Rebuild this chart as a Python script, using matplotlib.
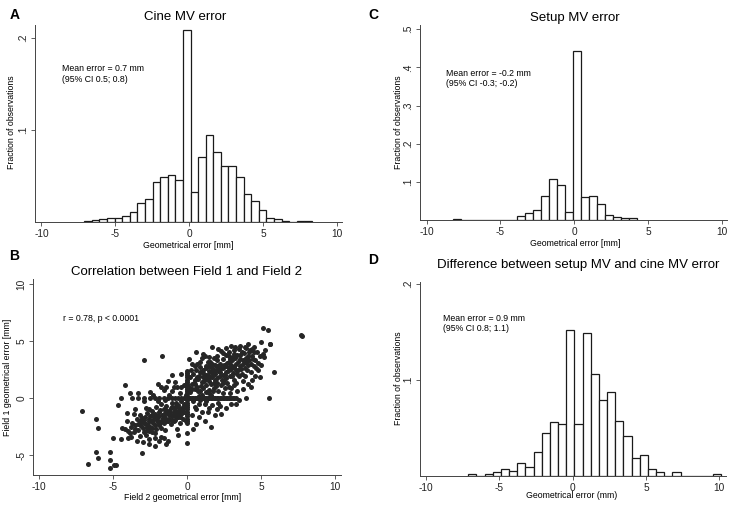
import numpy as np
import matplotlib
matplotlib.use("Agg")
from matplotlib import pyplot as plt

# --- histogram data (fraction of observations per bin) ---
cine_start, cine_width = -7.10, 0.513
cine_frac = [0.0007, 0.0015, 0.003, 0.0037, 0.0037, 0.006, 0.011, 0.020, 0.0245, 0.043,
             0.048, 0.051, 0.045, 0.208, 0.032, 0.0707, 0.0938, 0.0755, 0.061, 0.061,
             0.049, 0.030, 0.023, 0.0125, 0.0037, 0.0026, 0.001, 0.0, 0.0007, 0.0007]

setup_start, setup_width = -8.18, 0.541
setup_frac = [0.002, 0, 0, 0, 0, 0, 0, 0.001, 0.0105, 0.0195, 0.027, 0.062, 0.108, 0.091,
              0.022, 0.444, 0.059, 0.062, 0.041, 0.014, 0.009, 0.005, 0.006]

diff_start, diff_width = -7.12, 0.557
diff_frac = [0.0014, 0, 0.002, 0.004, 0.0066, 0.005, 0.013, 0.0087, 0.025, 0.0446,
             0.056, 0.054, 0.152, 0.054, 0.149, 0.106, 0.079, 0.087, 0.057, 0.042,
             0.019, 0.022, 0.0066, 0.004, 0, 0.0035, 0, 0, 0, 0, 0.002]

# --- scatter data: (field 2 error, field 1 error) in mm ---
outlier_pts = [(-7.11, -1.14), (-6.73, -5.82), (-6.14, -1.81), (-6.0, -2.6), (-6.2, -4.7),
               (-6.05, -5.3), (-5.2, -4.7), (-5.2, -5.44), (-5.2, -6.17), (-4.97, -5.88),
               (-4.8, -5.88), (-5.0, -3.54), (-4.7, -0.61), (-4.18, 1.14), (-4.1, -1.34),
               (-4.1, -2.0), (-3.9, 0.4), (-4.47, -3.6), (-2.93, 3.3), (-3.05, -4.85),
               (-1.7, 3.68), (1.63, -2.5), (5.86, 2.25), (7.68, 5.5), (7.8, 5.4),
               (5.16, 6.14), (5.5, 5.96), (5.63, 4.74), (1.7, 4.5)]

lower_pts = [(-4.4, -2.6), (-4.2, -2.7), (-4.0, -2.9), (-3.9, -3.1), (-3.8, -2.5), (-3.7, -2.2),
             (-3.6, -3.0), (-3.5, -2.4), (-3.4, -3.8), (-3.4, -1.8), (-3.3, -2.8), (-3.2, -3.3),
             (-3.2, -1.5), (-3.1, -2.1), (-3.0, -2.6), (-3.0, -3.9), (-2.9, -1.9), (-2.8, -2.3),
             (-2.8, -3.2), (-2.7, -1.3), (-2.7, -2.8), (-2.6, -2.0), (-2.6, -3.6), (-2.5, -1.6),
             (-2.5, -2.5), (-2.4, -1.1), (-2.4, -3.0), (-2.3, -1.9), (-2.3, -2.2), (-2.2, -4.2),
             (-2.2, -1.4), (-2.1, -2.7), (-2.1, -0.8), (-2.0, -1.7), (-2.0, -2.1), (-1.9, -1.2),
             (-1.9, -2.4), (-1.8, -3.4), (-1.8, -0.5), (-1.7, -1.9), (-1.7, -1.5), (-1.6, -2.2),
             (-1.6, -1.0), (-1.5, -2.8), (-1.5, -1.3), (-1.4, -0.7), (-1.4, -1.8), (-1.3, -2.0),
             (-1.3, -3.8), (-1.2, -1.1), (-1.2, -1.5), (-1.1, -0.9), (-1.1, -2.3), (-1.0, -1.6),
             (-1.0, -0.4), (-0.9, -1.2), (-0.9, -2.0), (-0.8, -0.8), (-0.8, -1.9), (-0.7, -1.4),
             (-0.7, -2.7), (-0.6, -0.6), (-0.6, -1.7), (-0.5, -1.0), (-0.5, -2.2), (-0.4, -0.3),
             (-0.4, -1.4), (-0.3, -0.9), (-0.3, -1.8), (-0.2, -0.5), (-0.2, -1.2), (-0.1, -2.0),
             (-0.1, -0.7), (-3.5, -1.0), (-3.3, 0.4), (-2.9, -0.3), (-2.5, 0.5), (-2.3, 0.3),
             (-2.0, 1.2), (-1.8, 1.0), (-1.6, 0.7), (-1.4, 1.0), (-1.2, 0.3), (-1.0, 0.6),
             (-0.9, 1.0), (-0.7, 1.0), (-0.5, 0.4), (-0.4, 1.0), (-0.2, 1.1), (-0.1, 0.3),
             (-1.0, 2.0), (-0.4, 2.1), (-1.3, 1.5), (-0.8, 1.4), (-2.8, -0.9), (-3.6, -1.4),
             (-3.8, -3.4), (-4.0, -3.5), (-2.2, -3.5), (-1.6, -3.5), (-1.4, -4.0), (-1.9, -3.8),
             (-2.6, -4.0), (-3.2, -2.0), (-2.6, -1.0), (-2.0, -0.3), (-1.5, -0.2), (-0.6, -3.2),
             (-3.35, -2.25), (-3.15, -2.45), (-2.95, -2.15), (-2.85, -1.65), (-2.75, -2.55),
             (-2.65, -2.35), (-2.55, -1.85), (-2.45, -2.05), (-2.35, -2.65), (-2.25, -1.65),
             (-2.15, -2.35), (-2.05, -1.95), (-1.95, -1.55), (-1.85, -2.15), (-1.75, -2.65),
             (-1.65, -1.75), (-1.55, -1.55), (-1.45, -2.05), (-1.35, -1.35), (-1.25, -1.85),
             (-1.15, -1.25), (-1.05, -1.95), (-0.95, -1.45), (-0.85, -1.05), (-0.75, -1.65),
             (-0.65, -1.25), (-0.55, -0.85), (-0.45, -1.65), (-0.35, -1.25), (-0.25, -0.75),
             (-3.05, -1.75), (-2.55, -2.85), (-2.15, -3.05), (-1.85, -1.05), (-1.45, -1.05),
             (-1.05, -0.75), (-0.75, -0.45), (-2.35, -1.45), (-2.95, -2.95), (-3.55, -2.75)]

upper_pts = [(0.3, -1.5), (0.5, -0.8), (0.6, -1.0), (0.8, -0.5), (1.0, -1.2), (1.2, -0.5),
             (1.5, -0.9), (1.7, -0.6), (2.0, -1.0), (2.3, -1.4), (2.1, -0.4), (2.6, -0.9),
             (3.0, -0.5), (3.3, -0.5), (0.4, -0.3), (0.9, -0.2), (1.3, -0.3),
             (0.2, 0.5), (0.3, 1.2), (0.4, 2.1), (0.5, 0.8), (0.5, 1.6), (0.6, 2.5), (0.7, 1.0),
             (0.7, 3.0), (0.8, 1.9), (0.9, 0.6), (0.9, 2.7), (1.0, 1.4), (1.0, 3.5), (1.1, 2.2),
             (1.1, 0.9), (1.2, 1.7), (1.2, 3.7), (1.3, 2.6), (1.3, 1.1), (1.4, 2.0), (1.4, 3.2),
             (1.5, 1.5), (1.5, 0.7), (1.5, 2.8), (1.6, 2.3), (1.6, 1.2), (1.7, 3.0), (1.7, 1.8),
             (1.8, 2.5), (1.8, 0.9), (1.8, 3.5), (1.9, 1.6), (1.9, 2.1), (2.0, 2.8), (2.0, 1.3),
             (2.0, 3.3), (2.1, 2.4), (2.1, 0.6), (2.2, 1.9), (2.2, 3.0), (2.3, 2.6), (2.3, 1.1),
             (2.4, 3.4), (2.4, 2.0), (2.5, 1.6), (2.5, 2.9), (2.6, 2.3), (2.6, 3.8), (2.7, 1.3),
             (2.7, 3.1), (2.8, 2.6), (2.8, 4.0), (2.9, 1.9), (2.9, 3.4), (3.0, 2.9), (3.0, 0.9),
             (3.1, 3.6), (3.1, 2.2), (3.2, 4.2), (3.2, 1.6), (3.3, 3.0), (3.3, 2.5), (3.4, 3.8),
             (3.5, 1.9), (3.5, 4.3), (3.6, 2.8), (3.6, 3.4), (3.7, 2.1), (3.7, 4.0), (3.8, 3.0),
             (3.8, 1.5), (3.9, 4.5), (3.9, 2.6), (4.0, 3.5), (4.0, 4.4), (4.1, 2.9), (4.1, 1.2),
             (4.2, 4.0), (4.2, 3.3), (4.3, 2.3), (4.4, 3.7), (4.4, 4.3), (4.5, 2.8), (4.6, 3.3),
             (4.6, 1.9), (4.7, 4.0), (4.8, 3.1), (4.8, 2.5), (4.9, 3.7), (5.0, 4.9), (5.0, 2.9),
             (5.1, 3.9), (5.2, 3.6), (5.3, 4.2), (0.6, 4.0), (1.1, 3.9), (2.1, 4.3), (2.6, 4.4),
             (3.0, 4.6), (0.1, 3.4), (0.3, 3.0), (1.0, 0.3), (1.6, 0.3), (2.4, 0.4), (2.9, 0.4),
             (3.4, 0.6), (3.8, 0.8), (4.3, 1.0), (0.2, 1.8), (0.1, 1.0), (3.5, -0.2), (1.9, -1.5),
             (1.2, -2.0), (0.8, -1.7), (4.4, 1.6), (4.9, 1.8), (5.6, 4.7), (3.3, 1.3), (2.2, -0.7),
             (1.4, -1.2), (0.6, -2.3), (0.4, -2.7), (3.9, 1.9), (3.2, 3.9), (2.3, 4.1), (1.5, 3.6),
             (0.9, 3.2), (1.9, 2.9), (2.4, 1.3), (2.8, 1.0), (1.3, 0.5), (0.8, 0.2),
             (0.55, 1.25), (0.75, 1.65), (0.95, 1.05), (1.05, 1.85), (1.15, 1.45), (1.25, 2.05),
             (1.35, 1.75), (1.45, 2.35), (1.55, 1.85), (1.65, 2.65), (1.75, 2.15), (1.85, 1.35),
             (1.95, 2.45), (2.05, 1.75), (2.15, 2.75), (2.25, 2.25), (2.35, 1.55), (2.45, 2.65),
             (2.55, 2.05), (2.65, 2.85), (2.75, 2.35), (2.85, 3.15), (2.95, 2.55), (3.05, 3.35),
             (3.15, 2.75), (3.25, 3.55), (3.35, 2.15), (3.45, 3.15), (3.55, 3.75), (3.65, 2.55),
             (3.75, 3.35), (3.85, 3.95), (3.95, 3.15), (4.05, 2.45), (4.15, 3.65), (4.25, 4.25),
             (4.35, 2.95), (4.45, 3.45), (4.55, 4.05), (4.65, 2.65), (1.25, 2.85), (1.05, 2.45),
             (0.85, 2.25), (0.65, 1.85), (0.45, 1.35), (1.55, 3.15), (2.05, 3.65), (2.45, 3.95),
             (2.85, 3.65), (3.25, 4.45), (3.6, 4.6), (4.1, 4.7), (4.5, 4.5), (1.95, 1.05),
             (2.65, 1.75), (3.05, 1.95), (3.45, 2.45), (3.15, 1.15), (2.55, 0.85), (1.45, 0.45),
             (0.75, 0.65), (1.75, 0.65), (0.35, 0.75), (0.25, 2.45), (0.55, 2.85)]

# points with field 1 error == 0 (the horizontal row)
zero_row_x = [-4.5, -3.7, -3.3, -2.9, -2.5, -2.2, -1.9, -1.6, -1.3, -1.0, -0.8, -0.6, -0.4, -0.2,
              0.1, 0.2, 0.3, 0.4, 0.5, 0.6, 0.7, 0.8, 0.9, 1.0, 1.1, 1.2, 1.3, 1.4, 1.5, 1.6,
              1.7, 1.8, 1.9, 2.0, 2.1, 2.2, 2.3, 2.4, 2.5, 2.6, 2.7, 2.8, 2.9, 3.0, 3.1, 3.2,
              3.3, 4.0, 5.56]
# points with field 2 error == 0 (the vertical column)
zero_col_y = [-3.98, -3.1, -2.2, -2.0, -1.8, -1.6, -1.4, -1.2, -1.0, -0.8, -0.6, -0.4, -0.2,
              0.0, 0.2, 0.4, 0.6, 0.8, 1.0, 1.2, 1.4, 1.6, 1.8, 2.0, 2.2, 2.4]

plt.rcParams['font.family'] = ['Liberation Sans', 'DejaVu Sans']

W, H = 738, 511
fig = plt.figure(figsize=(W / 100, H / 100), dpi=100)
AX_COL = '#444444'


def rect(l, t, r, b):
    # pixel box -> figure fraction
    return [l / W, 1 - b / H, (r - l) / W, (b - t) / H]


def ftext(x, y, s, **kw):
    fig.text(x / W, 1 - y / H, s, **kw)


def style_axes(ax, xlim, ylim, yticks, ylabels):
    for side in ['top', 'right']:
        ax.spines[side].set_visible(False)
    for side in ['left', 'bottom']:
        ax.spines[side].set_color(AX_COL)
        ax.spines[side].set_linewidth(0.7)
    ax.set_xlim(*xlim)
    ax.set_ylim(*ylim)
    ax.set_xticks([-10, -5, 0, 5, 10])
    ax.set_xticklabels(['-10', '-5', '0', '5', '10'])
    ax.set_yticks(yticks)
    ax.set_yticklabels(ylabels, rotation=90, va='center')
    ax.tick_params(direction='out', length=3, width=0.6, color=AX_COL,
                   labelsize=7.3, pad=2, labelcolor='#222222')


def hist_panel(box, start, width, frac, xlim, ylim, yticks, ylabels):
    ax = fig.add_axes(rect(*box))
    edges = start + width * np.arange(len(frac))
    ax.bar(edges, frac, width=width, align='edge', color='white',
           edgecolor='#1a1a1a', linewidth=0.9)
    style_axes(ax, xlim, ylim, yticks, ylabels)
    return ax


# A: cine MV error
axA = hist_panel((35, 25, 341.7, 221.7), cine_start, cine_width, cine_frac,
                 (-10.43, 10.3), (0, 0.2136), [0.1, 0.2], ['.1', '.2'])
axA.text(-8.6, 0.16, 'Mean error = 0.7 mm\n(95% CI 0.5; 0.8)', fontsize=6.3,
         va='center', linespacing=1.25)

# C: setup MV error
axC = hist_panel((420, 25, 726.7, 220), setup_start, setup_width, setup_frac,
                 (-10.45, 10.34), (0, 0.511), [0.1, 0.2, 0.3, 0.4, 0.5],
                 ['.1', '.2', '.3', '.4', '.5'])
axC.text(-8.7, 0.371, 'Mean error = -0.2 mm\n(95% CI -0.3; -0.2)', fontsize=6.3,
         va='center', linespacing=1.25)

# D: difference
axD = hist_panel((420, 281.7, 726, 475.7), diff_start, diff_width, diff_frac,
                 (-10.41, 10.46), (0, 0.2027), [0.1, 0.2], ['.1', '.2'])
axD.text(-8.82, 0.159, 'Mean error = 0.9 mm\n(95% CI 0.8; 1.1)', fontsize=6.3,
         va='center', linespacing=1.25)

# B: scatter
axB = fig.add_axes(rect(33.3, 279.3, 340.7, 475))
pts = outlier_pts + lower_pts + upper_pts
px = [p[0] for p in pts] + zero_row_x + [0.0] * len(zero_col_y)
py = [p[1] for p in pts] + [0.0] * len(zero_row_x) + zero_col_y
axB.scatter(px, py, s=13, color='#262626', linewidths=0)
style_axes(axB, (-10.41, 10.39), (-6.75, 10.41), [-5, 0, 5, 10], ['-5', '0', '5', '10'])
axB.text(-8.38, 7.0, 'r = 0.78, p < 0.0001', fontsize=6.3, va='center')

# titles, panel letters, axis labels
ftext(185, 17, 'Cine MV error', fontsize=9.5, ha='center', va='center')
ftext(575, 18, 'Setup MV error', fontsize=9.5, ha='center', va='center')
ftext(186.7, 272, 'Correlation between Field 1 and Field 2', fontsize=9.5, ha='center', va='center')
ftext(578, 265, 'Difference between setup MV and cine MV error', fontsize=9.5, ha='center', va='center')

for x, y, s in [(15, 15, 'A'), (373, 15, 'C'), (14, 256, 'B'), (373, 260, 'D')]:
    ftext(x, y, s, fontsize=10, fontweight='bold', ha='center', va='center')

ftext(188, 245, 'Geometrical error [mm]', fontsize=6.3, ha='center', va='center')
ftext(575, 244, 'Geometrical error [mm]', fontsize=6.3, ha='center', va='center')
ftext(183, 497, 'Field 2 geometrical error [mm]', fontsize=6.3, ha='center', va='center')
ftext(572, 496, 'Geometrical error (mm)', fontsize=6.3, ha='center', va='center')

ftext(12, 122, 'Fraction of observations', fontsize=6.3, rotation=90, ha='center', va='center')
ftext(398, 122, 'Fraction of observations', fontsize=6.3, rotation=90, ha='center', va='center')
ftext(8, 377, 'Field 1 geometrical error [mm]', fontsize=6.3, rotation=90, ha='center', va='center')
ftext(398, 378, 'Fraction of observations', fontsize=6.3, rotation=90, ha='center', va='center')

fig.savefig('out.png', dpi=100)
